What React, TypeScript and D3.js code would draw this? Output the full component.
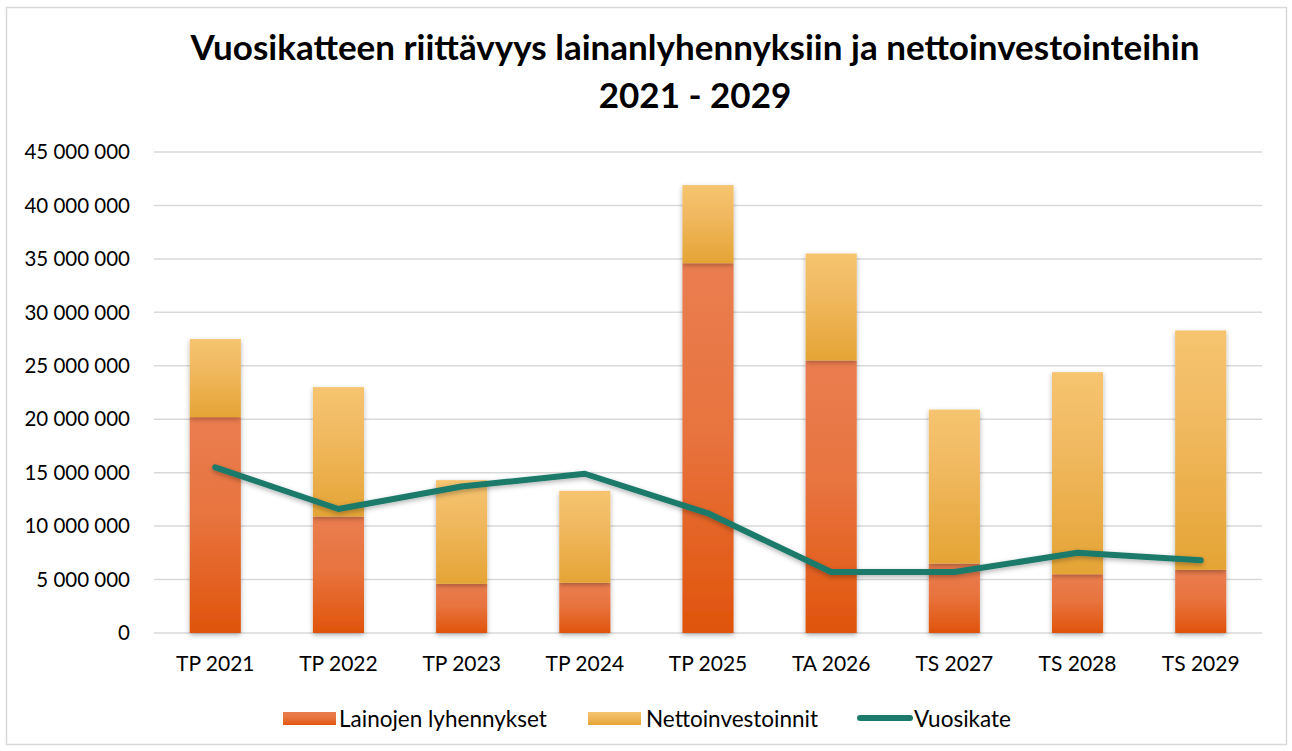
import React from 'react';
import * as d3 from 'd3';

const categories = ['TP 2021', 'TP 2022', 'TP 2023', 'TP 2024', 'TP 2025', 'TA 2026', 'TS 2027', 'TS 2028', 'TS 2029'];
const lainojenLyhennykset = [20.2, 10.9, 4.6, 4.7, 34.6, 25.5, 6.5, 5.5, 5.9].map(v => v * 1e6);
const nettoinvestoinnit = [7.3, 12.1, 9.7, 8.6, 7.3, 10.0, 14.4, 18.9, 22.4].map(v => v * 1e6);
const vuosikate = [15.5, 11.6, 13.7, 14.9, 11.2, 5.7, 5.7, 7.5, 6.8].map(v => v * 1e6);
const yTicks = [0, 5e6, 10e6, 15e6, 20e6, 25e6, 30e6, 35e6, 40e6, 45e6];

const W = 1292;
const H = 751;
const margin = { left: 154, right: 30, top: 152, bottom: 118 };

const fmt = (v: number) => (v === 0 ? '0' : d3.format(',')(v).replace(/,/g, ' '));

export default function App() {
  const x = d3.scaleBand<string>().domain(categories).range([margin.left, W - margin.right]).paddingInner(0.585).paddingOuter(0.29);
  const y = d3.scaleLinear().domain([0, 45e6]).range([H - margin.bottom, margin.top]);

  const stack = d3.stack<number>().keys(['l', 'n']).value((i, k) => (k === 'l' ? lainojenLyhennykset[i] : nettoinvestoinnit[i]));
  const series = stack(categories.map((_, i) => i));

  const line = d3.line<number>().x((_, i) => x(categories[i])! + x.bandwidth() / 2).y(d => y(d));

  const font = 'Lato, "Open Sans", sans-serif';

  // legend entries: swatch start, text start
  const legend = [
    { label: 'Lainojen lyhennykset', kind: 'l', sx: 283, tx: 339 },
    { label: 'Nettoinvestoinnit', kind: 'n', sx: 588, tx: 646 },
    { label: 'Vuosikate', kind: 'v', sx: 857, tx: 914 },
  ];

  return (
    <svg width={W} height={H} style={{ position: 'absolute', left: 0, top: 0 }} fontFamily={font}>
      <defs>
        <linearGradient id="gL" x1="0" y1="0" x2="0" y2="1">
          <stop offset="0" stopColor="#EA7D50" />
          <stop offset="0.45" stopColor="#E8743F" />
          <stop offset="1" stopColor="#E0540C" />
        </linearGradient>
        <linearGradient id="gN" x1="0" y1="0" x2="0" y2="1">
          <stop offset="0" stopColor="#F6C46F" />
          <stop offset="0.35" stopColor="#F1BA62" />
          <stop offset="1" stopColor="#E5A435" />
        </linearGradient>
        <filter id="sh" x="-30%" y="-10%" width="160%" height="130%">
          <feDropShadow dx="0" dy="2" stdDeviation="2.5" floodColor="#000" floodOpacity="0.3" />
        </filter>
      </defs>
      <rect x={6.5} y={7.5} width={1280} height={737} fill="#fff" stroke="#d9d9d9" strokeWidth={1.5} />

      <text x={695} y={60} textAnchor="middle" fontSize={35} fontWeight={700} fill="#000">
        Vuosikatteen riittävyys lainanlyhennyksiin ja nettoinvestointeihin
      </text>
      <text x={695} y={108} textAnchor="middle" fontSize={35} fontWeight={700} fill="#000">
        2021 - 2029
      </text>

      {yTicks.map(t => (
        <g key={t}>
          <line x1={margin.left} x2={W - margin.right} y1={y(t)} y2={y(t)} stroke="#d9d9d9" strokeWidth={1.5} />
          <text x={130} y={y(t)} dy="0.35em" textAnchor="end" fontSize={20.5} fill="#000">{fmt(t)}</text>
        </g>
      ))}

      {series.map((s, si) => (
        <g key={si} fill={si === 0 ? 'url(#gL)' : 'url(#gN)'} filter="url(#sh)">
          {s.map((d, i) => (
            <rect key={i} x={x(categories[i])} width={x.bandwidth()} y={y(d[1])} height={y(d[0]) - y(d[1])} />
          ))}
        </g>
      ))}

      <path d={line(vuosikate)!} fill="none" stroke="#1B7A6B" strokeWidth={6} strokeLinecap="round" strokeLinejoin="round" filter="url(#sh)" />

      {categories.map(c => (
        <text key={c} x={x(c)! + x.bandwidth() / 2} y={664} dy="0.35em" textAnchor="middle" fontSize={21} fill="#000">{c}</text>
      ))}

      <g fontSize={22.5} fill="#000">
        {legend.map(e => (
          <g key={e.label}>
            {e.kind === 'v' ? (
              <line x1={e.sx + 3} x2={e.sx + 53} y1={718} y2={718} stroke="#1B7A6B" strokeWidth={6} strokeLinecap="round" />
            ) : (
              <rect x={e.sx} y={712} width={53} height={13} fill={e.kind === 'l' ? 'url(#gL)' : 'url(#gN)'} />
            )}
            <text x={e.tx} y={719} dy="0.35em">{e.label}</text>
          </g>
        ))}
      </g>
    </svg>
  );
}
